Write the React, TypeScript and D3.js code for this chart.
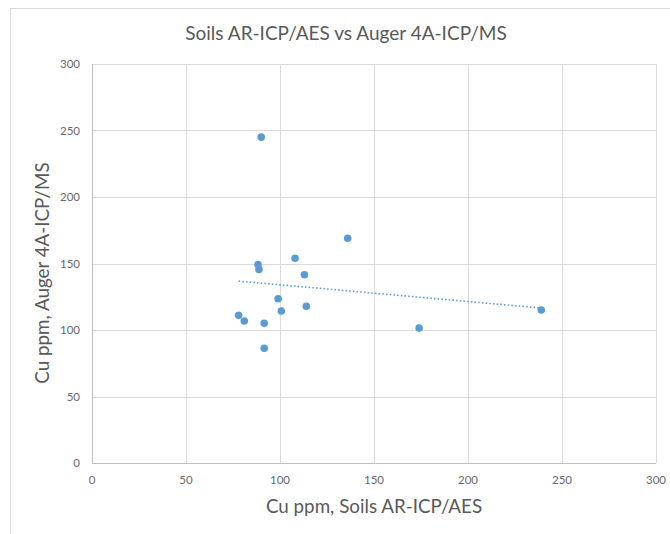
import React from "react";
import * as d3 from "d3";

const soilsAR: number[] = [90, 136, 108, 88.3, 88.8, 113, 99, 114, 100.7, 78, 81, 91.6, 91.6, 174, 239];
const augerMS: number[] = [245, 169, 154, 149.3, 145.5, 141.5, 123.5, 117.8, 114.3, 111, 106.8, 105, 86.3, 101.5, 115];
const xTicks: number[] = [0, 50, 100, 150, 200, 250, 300];
const yTicks: number[] = [0, 50, 100, 150, 200, 250, 300];
const title = "Soils AR-ICP/AES vs Auger 4A-ICP/MS";
const xTitle = "Cu ppm, Soils AR-ICP/AES";
const yTitle = "Cu ppm, Auger 4A-ICP/MS";

const W = 670, H = 534;
const L = 92, R = 656, T = 64, B = 463;
const blue = "#5B9BD5";
const font = "Lato, 'Open Sans', sans-serif";

export default function App() {
  const x = d3.scaleLinear().domain([0, 300]).range([L, R]);
  const y = d3.scaleLinear().domain([0, 300]).range([B, T]);
  const n = soilsAR.length;
  const mx = d3.mean(soilsAR) as number;
  const my = d3.mean(augerMS) as number;
  let sxy = 0, sxx = 0;
  for (let i = 0; i < n; i++) {
    sxy += (soilsAR[i] - mx) * (augerMS[i] - my);
    sxx += (soilsAR[i] - mx) ** 2;
  }
  const slope = sxy / sxx;
  const icpt = my - slope * mx;
  const [x0, x1] = d3.extent(soilsAR) as [number, number];
  const line = d3.line<number>().x((d) => x(d)).y((d) => y(icpt + slope * d));

  return (
    <svg width={W} height={H} style={{ position: "absolute", left: 0, top: 0 }} fontFamily={font}>
      <rect x={0} y={0} width={W} height={H} fill="#fff" />
      <rect x={10.5} y={8.5} width={W + 10} height={H + 10} fill="#fff" stroke="#d9d9d9" />
      <text x={346} y={40} textAnchor="middle" fontSize={19} fill="#595959">{title}</text>
      {xTicks.map((t) => (
        <line key={"gx" + t} x1={Math.round(x(t)) + 0.5} x2={Math.round(x(t)) + 0.5} y1={T} y2={B} stroke="#d9d9d9" />
      ))}
      {yTicks.map((t) => (
        <line key={"gy" + t} x1={L} x2={R} y1={Math.round(y(t)) + 0.5} y2={Math.round(y(t)) + 0.5} stroke="#d9d9d9" />
      ))}
      <line x1={L + 0.5} x2={L + 0.5} y1={T} y2={B} stroke="#bfbfbf" />
      <line x1={L} x2={R} y1={B + 0.5} y2={B + 0.5} stroke="#bfbfbf" />
      {yTicks.map((t) => (
        <text key={"ty" + t} x={80} y={y(t) + 4} textAnchor="end" fontSize={11.5} fill="#6a6a6a">{t}</text>
      ))}
      {xTicks.map((t) => (
        <text key={"tx" + t} x={x(t)} y={484} textAnchor="middle" fontSize={11.5} fill="#6a6a6a">{t}</text>
      ))}
      <text x={374} y={513} textAnchor="middle" fontSize={18.8} fill="#595959">{xTitle}</text>
      <text transform={`translate(49,${273}) rotate(-90)`} textAnchor="middle" fontSize={18.8} fill="#595959">{yTitle}</text>
      <path d={line([x0, x1]) as string} fill="none" stroke={blue} strokeWidth={1.6} strokeDasharray="1.5 2.2" />
      {soilsAR.map((v, i) => (
        <circle key={"p" + i} cx={x(v)} cy={y(augerMS[i])} r={3.8} fill={blue} />
      ))}
    </svg>
  );
}
